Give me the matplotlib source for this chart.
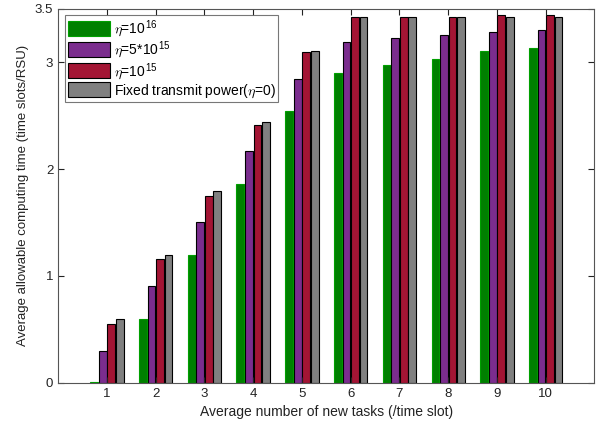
import matplotlib.pyplot as plt
import numpy as np

plt.rcParams['font.family'] = ['Liberation Sans', 'DejaVu Sans']
plt.rcParams['mathtext.fontset'] = 'cm'

tasks = np.arange(1, 11)
eta_1e16 = [0.01, 0.60, 1.20, 1.86, 2.54, 2.90, 2.97, 3.03, 3.10, 3.13]
eta_5e15 = [0.30, 0.91, 1.50, 2.17, 2.84, 3.19, 3.22, 3.25, 3.28, 3.30]
eta_1e15 = [0.55, 1.16, 1.75, 2.41, 3.09, 3.42, 3.42, 3.42, 3.44, 3.44]
fixed_power = [0.60, 1.20, 1.79, 2.44, 3.10, 3.42, 3.42, 3.42, 3.42, 3.42]

labels = [r'$\eta$=10$^{\mathregular{16}}$', r'$\eta$=5*10$^{\mathregular{15}}$',
          r'$\eta$=10$^{\mathregular{15}}$', r'Fixed transmit power($\eta$=0)']
colors = ["#008000", "#7b2d8e", "#a31534", "#808080"]
series = [eta_1e16, eta_5e15, eta_1e15, fixed_power]

fig = plt.figure(figsize=(6.06, 4.26), dpi=100)
axes = fig.add_axes([0.096, 0.101, 0.885, 0.879])

step = 0.175
for i, (vals, c, lab) in enumerate(zip(series, colors, labels)):
    off = (i - 1.5) * step
    edge = "#00a000" if i == 0 else "black"
    axes.bar(tasks + off, vals, width=0.16, color=c, edgecolor=edge,
             linewidth=0.8, label=lab)

axes.set_xlim(0, 11)
axes.set_ylim(0, 3.5)
axes.set_xticks(tasks)
axes.set_yticks([0, 1, 2, 3, 3.5])
axes.set_yticklabels(["0", "1", "2", "3", "3.5"])
axes.tick_params(direction="in", top=True, right=True, labelsize=9.5,
                 colors="#222222", length=4)
for s in axes.spines.values():
    s.set_color("#555555")
    s.set_linewidth(0.8)

axes.set_xlabel("Average number of new tasks (/time slot)", fontsize=10, color="#222222")
axes.set_ylabel("Average allowable computing time (time slots/RSU)", fontsize=9.5,
                color="#222222")

leg = axes.legend(loc="upper left", fontsize=10, frameon=True, fancybox=False,
                  edgecolor="#555555", handlelength=3.0, handleheight=1.3,
                  handletextpad=0.3, labelspacing=0.05, borderpad=0.2,
                  borderaxespad=0.5)
leg.get_frame().set_linewidth(0.8)

fig.savefig("out.png", dpi=100)
